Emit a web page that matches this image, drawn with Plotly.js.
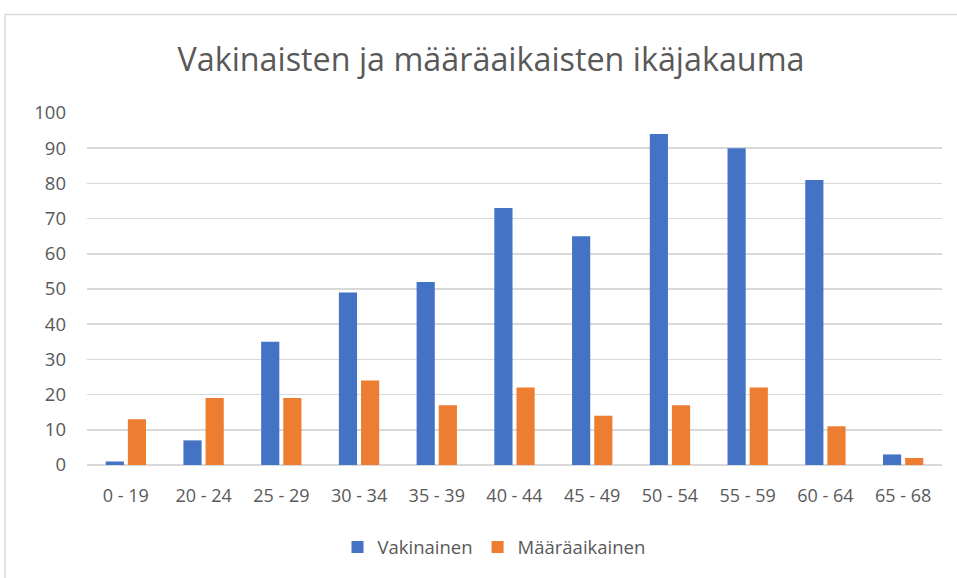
<!DOCTYPE html>
<html><head><meta charset="utf-8">
<script src="https://cdn.plot.ly/plotly-3.0.1.min.js"></script>
<style>html,body{margin:0;padding:0;background:#fff}</style>
</head><body><div id="chart" style="width:957px;height:578px"></div>
<script>
const categories = ["0 - 19","20 - 24","25 - 29","30 - 34","35 - 39","40 - 44","45 - 49","50 - 54","55 - 59","60 - 64","65 - 68"];
const vakinainen = [1, 7, 35, 49, 52, 73, 65, 94, 90, 81, 3];
const maaraaikainen = [13, 19, 19, 24, 17, 22, 14, 17, 22, 11, 2];
const seriesNames = ["Vakinainen", "Määräaikainen"];
const yTicks = [0,10,20,30,40,50,60,70,80,90,100];

const fontFam = "'Open Sans', 'DejaVu Sans', sans-serif";
const grey = "#595959";
const traces = [
  {type:"bar", x:categories, y:vakinainen, name:seriesNames[0], marker:{color:"#4472C4"}, hoverinfo:"x+y"},
  {type:"bar", x:categories, y:maaraaikainen, name:seriesNames[1], marker:{color:"#ED7D31"}, hoverinfo:"x+y"}
];
const L=87, R=15, T=113, B=111, W=957, H=578;
const pw=W-L-R, ph=H-T-B;
const layout = {
  width:W, height:H,
  margin:{l:L, r:R, t:T, b:B, pad:0},
  paper_bgcolor:"#fff", plot_bgcolor:"#fff",
  font:{family:fontFam, color:grey, size:18},
  title:{text:"Vakinaisten ja määräaikaisten ikäjakauma", font:{size:32.3, color:grey, family:fontFam}, x:491/W, xanchor:"center", y:1-60/H, yanchor:"middle"},
  barmode:"group", bargap:0.43, bargroupgap:0.18,
  xaxis:{type:"category", showgrid:false, showline:false, zeroline:false, ticks:"", tickfont:{size:18, color:grey}, ticklabelstandoff:18, fixedrange:true},
  yaxis:{range:[0,100], tickvals:yTicks, showgrid:true, gridcolor:"#D9D9D9", gridwidth:1.5, zeroline:true, zerolinecolor:"#D9D9D9", zerolinewidth:1.5, showline:false, ticks:"", tickfont:{size:18.5, color:grey}, ticklabelstandoff:20, fixedrange:true},
  showlegend:true,
  legend:{orientation:"h", x:(494-L)/pw, xanchor:"center", y:(H-B-550)/ph, yanchor:"middle", font:{size:18.5, color:grey}, itemwidth:30, traceorder:"normal"},
  shapes:[
    {type:"line", xref:"paper", yref:"paper", x0:(5-L)/pw, x1:(5-L)/pw, y0:(H-B-14)/ph, y1:(H-B-600)/ph, line:{color:"#D9D9D9", width:1.5}},
    {type:"line", xref:"paper", yref:"paper", x0:(5-L)/pw, x1:(980-L)/pw, y0:(H-B-14)/ph, y1:(H-B-14)/ph, line:{color:"#D9D9D9", width:1.5}}
  ]
};
Plotly.newPlot("chart", traces, layout, {displayModeBar:false, staticPlot:true});
</script></body></html>
